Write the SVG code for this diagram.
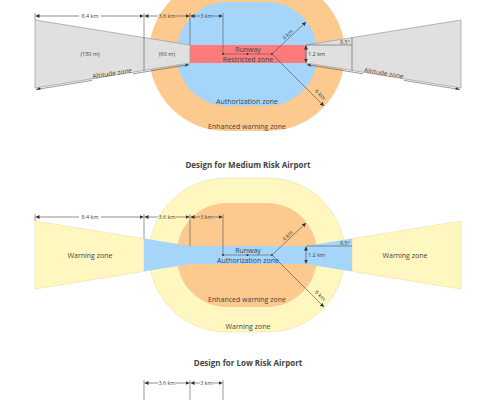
<svg xmlns="http://www.w3.org/2000/svg" width="495" height="400" viewBox="0 0 495 400">
<defs>
<marker id="arr" viewBox="0 0 6 6" refX="6" refY="3" markerWidth="4" markerHeight="4" orient="auto" markerUnits="userSpaceOnUse"><path d="M0,0 L6,3 L0,6 z" fill="#333"/></marker>
<style>
text{font-family:"Open Sans","Noto Sans",sans-serif;fill:#444;text-anchor:middle}
.s{font-size:5.5px}
.m{font-size:7px}
.a{font-size:6.5px}
.t{font-size:8px;font-weight:bold}
.ln{stroke:#555;stroke-width:0.6;fill:none}
.dim{stroke:#444;stroke-width:0.6;fill:none;marker-end:url(#arr)}
.grey{fill:#e0e0e0;stroke:#999;stroke-width:0.7}
.yel{fill:#fff7bf;stroke:#e8e0a8;stroke-width:0.6}
.org{fill:#fcc98e}
.blu{fill:#a6d5fa}
.red{fill:#ff7b7b}
.dot{fill:#333}
</style>
</defs>
<rect width="495" height="400" fill="#fff"/>

<!-- TOP: High risk -->
<g id="top-zones">
<rect id="enhanced-warning-top" class="org" x="149" y="-23" width="196" height="154" rx="77"/>
<rect id="authorization-top" class="blu" x="177" y="2" width="140" height="104" rx="50"/>
<rect id="restricted-top" class="red" x="190" y="45" width="116" height="18"/>
<polygon id="altitude-left" class="grey" points="35,20 190,45 190,63 35,88"/>
<polygon id="altitude-right" class="grey" points="461,20 306,45 306,63 461,88"/>
<line class="ln" x1="144" y1="37.6" x2="144" y2="70.4"/>
<line class="ln" x1="352" y1="37.6" x2="352" y2="70.4"/>
</g>
<g id="top-connectors">
<line class="ln" x1="35" y1="13" x2="35" y2="20"/>
<line class="ln" x1="144" y1="13" x2="144" y2="38"/>
<line class="ln" x1="190" y1="13" x2="190" y2="45"/>
<line class="ln" x1="223" y1="13" x2="223" y2="54"/>
<line class="dim" x1="79" y1="16" x2="35.5" y2="16"/>
<line class="dim" x1="101" y1="16" x2="143.5" y2="16"/>
<line class="dim" x1="158" y1="16" x2="144.5" y2="16"/>
<line class="dim" x1="176" y1="16" x2="189.5" y2="16"/>
<line class="dim" x1="200" y1="16" x2="190.5" y2="16"/>
<line class="dim" x1="213" y1="16" x2="222.5" y2="16"/>
<line class="ln" x1="223" y1="54" x2="272" y2="54"/>
<circle class="dot" cx="223" cy="54" r="1"/><circle class="dot" cx="247.5" cy="54" r="1"/><circle class="dot" cx="272" cy="54" r="1"/>
<line class="dim" x1="272" y1="54" x2="306" y2="22"/>
<line class="dim" x1="272" y1="54" x2="324" y2="106"/>
<line class="dim" x1="306" y1="54" x2="306" y2="45.5"/>
<line class="dim" x1="306" y1="54" x2="306" y2="62.5"/>
<line class="ln" x1="306" y1="45" x2="352" y2="45"/>
<path class="ln" d="M36,89.5 L92,80.4 M133,73.8 L189,64.7"/>
<path class="ln" d="M460,89.5 L404,80.4 M363,73.8 L307,64.7"/>
<polygon class="dot" points="36,89.5 40,87.3 40.6,89.8"/>
<polygon class="dot" points="189,64.7 185,66.8 185.6,64.1"/>
<polygon class="dot" points="460,89.5 456,87.3 455.4,89.8"/>
<polygon class="dot" points="307,64.7 311,66.8 310.4,64.1"/>
</g>
<g id="top-labels">
<text class="s" x="90" y="18">8.4 km</text>
<text class="s" x="167" y="18">3.6 km</text>
<text class="s" x="206.5" y="18">3 km</text>
<text class="s" x="90" y="56">(150 m)</text>
<text class="s" x="167" y="56">(60 m)</text>
<text class="m" x="248" y="51.5">Runway</text>
<text class="m" x="248" y="62">Restricted zone</text>
<text class="s" x="308" y="56" style="text-anchor:start">1.2 km</text>
<text class="s" x="345" y="43.5">8.5°</text>
<text class="s" transform="translate(289,36) rotate(-43)">4 km</text>
<text class="s" transform="translate(319,96) rotate(45)">6 km</text>
<text class="a" transform="translate(112.5,75.5) rotate(-9.2)">Altitude zone</text>
<text class="a" transform="translate(383.5,75.5) rotate(9.2)">Altitude zone</text>
<text class="m" x="247" y="104">Authorization zone</text>
<text class="m" x="247" y="129">Enhanced warning zone</text>
</g>

<text class="t" x="248" y="168">Design for Medium Risk Airport</text>

<!-- MIDDLE: Medium risk -->
<g id="mid-zones">
<rect id="warning-mid" class="yel" x="149" y="178" width="196" height="154" rx="77"/>
<rect id="enhanced-mid" class="org" x="177" y="203" width="140" height="104" rx="50"/>
<polygon id="warning-left" class="yel" points="35,221 144,238.6 144,271.4 35,289"/>
<polygon id="warning-right" class="yel" points="461,221 352,238.6 352,271.4 461,289"/>
<polygon id="authorization-mid" class="blu" points="144,238.6 190,246 306,246 352,238.6 352,271.4 306,264 190,264 144,271.4"/>
</g>
<g id="mid-connectors">
<line class="ln" x1="35" y1="214" x2="35" y2="221"/>
<line class="ln" x1="144" y1="214" x2="144" y2="238.6"/>
<line class="ln" x1="190" y1="214" x2="190" y2="246"/>
<line class="ln" x1="223" y1="214" x2="223" y2="255"/>
<line class="dim" x1="79" y1="217" x2="35.5" y2="217"/>
<line class="dim" x1="101" y1="217" x2="143.5" y2="217"/>
<line class="dim" x1="158" y1="217" x2="144.5" y2="217"/>
<line class="dim" x1="176" y1="217" x2="189.5" y2="217"/>
<line class="dim" x1="200" y1="217" x2="190.5" y2="217"/>
<line class="dim" x1="213" y1="217" x2="222.5" y2="217"/>
<line class="ln" x1="223" y1="255" x2="272" y2="255"/>
<circle class="dot" cx="223" cy="255" r="1"/><circle class="dot" cx="247.5" cy="255" r="1"/><circle class="dot" cx="272" cy="255" r="1"/>
<line class="dim" x1="272" y1="255" x2="306" y2="223"/>
<line class="dim" x1="272" y1="255" x2="324" y2="307"/>
<line class="dim" x1="306" y1="255" x2="306" y2="246.5"/>
<line class="dim" x1="306" y1="255" x2="306" y2="263.5"/>
<line class="ln" x1="306" y1="246" x2="352" y2="246"/>
</g>
<g id="mid-labels">
<text class="s" x="90" y="219">8.4 km</text>
<text class="s" x="167" y="219">3.6 km</text>
<text class="s" x="206.5" y="219">3 km</text>
<text class="m" x="90" y="257.5">Warning zone</text>
<text class="m" x="405" y="257.5">Warning zone</text>
<text class="m" x="248" y="252.5">Runway</text>
<text class="m" x="248" y="263">Authorization zone</text>
<text class="s" x="308" y="257" style="text-anchor:start">1.2 km</text>
<text class="s" x="345" y="244.5">8.5°</text>
<text class="s" transform="translate(289,237) rotate(-43)">4 km</text>
<text class="s" transform="translate(319,297) rotate(45)">6 km</text>
<text class="m" x="247" y="302">Enhanced warning zone</text>
<text class="m" x="248" y="329">Warning zone</text>
</g>

<text class="t" x="248" y="366">Design for Low Risk Airport</text>

<!-- BOTTOM: Low risk (partial) -->
<g id="low-connectors">
<line class="ln" x1="144" y1="380" x2="144" y2="400"/>
<line class="ln" x1="190" y1="380" x2="190" y2="400"/>
<line class="ln" x1="223" y1="380" x2="223" y2="400"/>
<line class="dim" x1="158" y1="383" x2="144.5" y2="383"/>
<line class="dim" x1="176" y1="383" x2="189.5" y2="383"/>
<line class="dim" x1="200" y1="383" x2="190.5" y2="383"/>
<line class="dim" x1="213" y1="383" x2="222.5" y2="383"/>
</g>
<g id="low-labels">
<text class="s" x="167" y="385">3.6 km</text>
<text class="s" x="206.5" y="385">3 km</text>
</g>
</svg>
